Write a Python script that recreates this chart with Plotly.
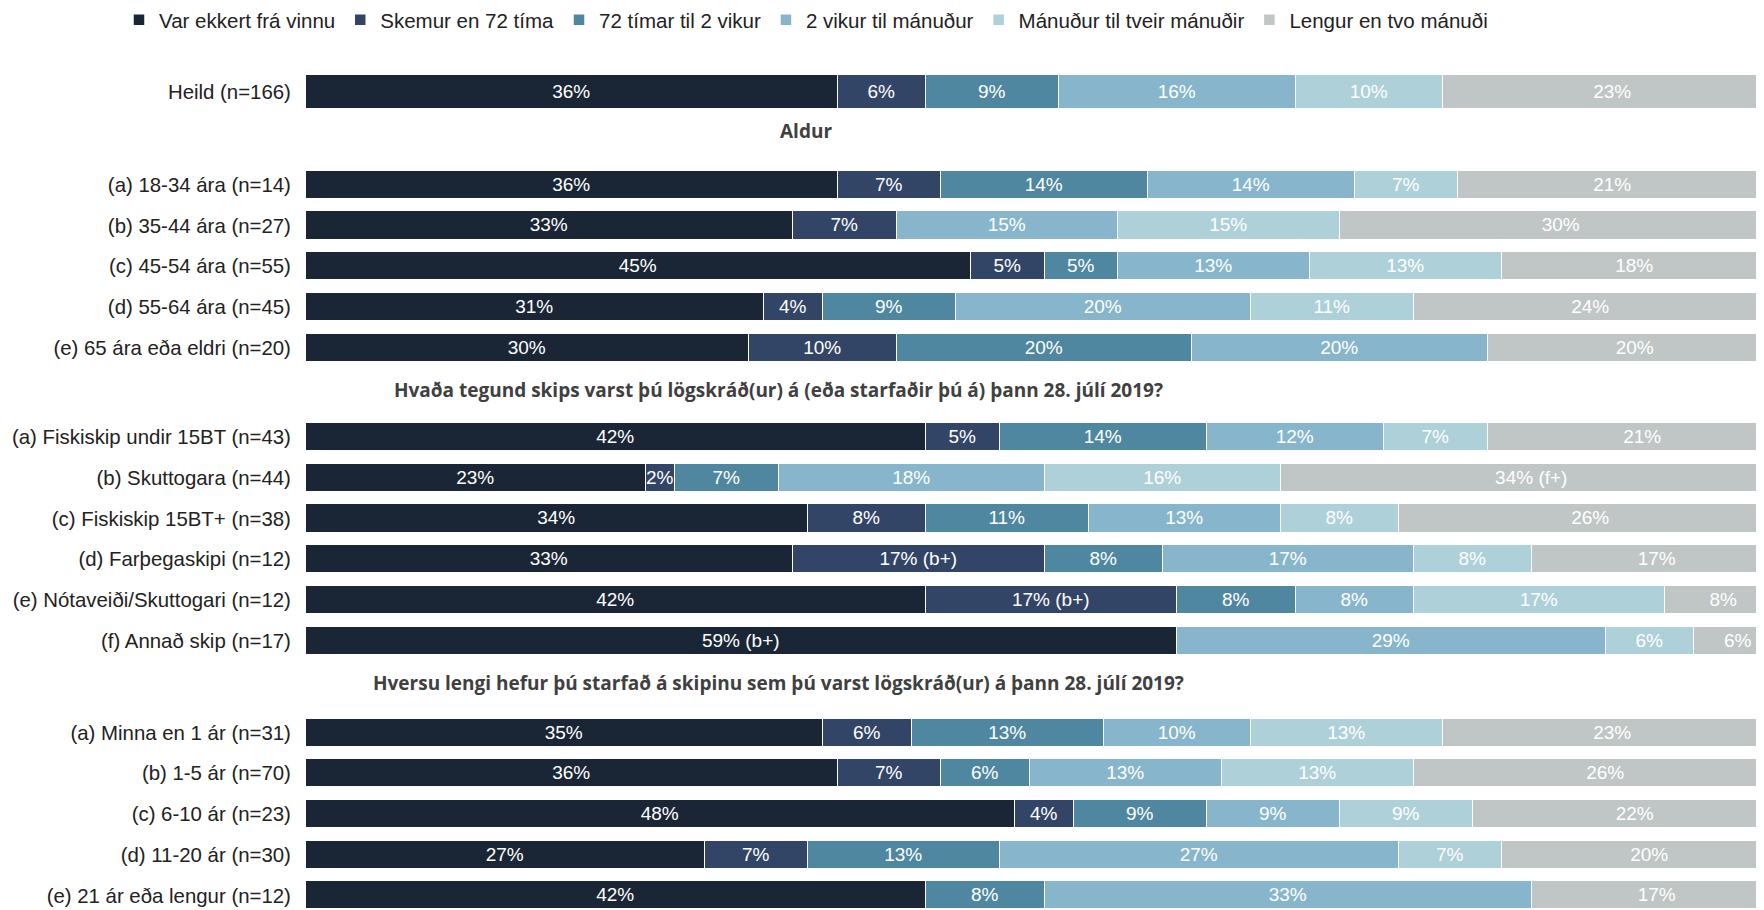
import plotly.graph_objects as go

# ---------------- data ----------------
series = ["Var ekkert frá vinnu", "Skemur en 72 tíma", "72 tímar til 2 vikur",
          "2 vikur til mánuður", "Mánuður til tveir mánuðir", "Lengur en tvo mánuði"]
colors = ["#1a2636", "#334566", "#4f87a1", "#87b6cc", "#aed0d9", "#c0c6c5"]

group_titles = [None,
                "Aldur",
                "Hvaða tegund skips varst þú lögskráð(ur) á (eða starfaðir þú á) þann 28. júlí 2019?",
                "Hversu lengi hefur þú starfað á skipinu sem þú varst lögskráð(ur) á þann 28. júlí 2019?"]
group_rows = [
    ["Heild (n=166)"],
    ["(a) 18-34 ára (n=14)", "(b) 35-44 ára (n=27)", "(c) 45-54 ára (n=55)",
     "(d) 55-64 ára (n=45)", "(e) 65 ára eða eldri (n=20)"],
    ["(a) Fiskiskip undir 15BT (n=43)", "(b) Skuttogara (n=44)", "(c) Fiskiskip 15BT+ (n=38)",
     "(d) Farþegaskipi (n=12)", "(e) Nótaveiði/Skuttogari (n=12)", "(f) Annað skip (n=17)"],
    ["(a) Minna en 1 ár (n=31)", "(b) 1-5 ár (n=70)", "(c) 6-10 ár (n=23)",
     "(d) 11-20 ár (n=30)", "(e) 21 ár eða lengur (n=12)"],
]

var_ekkert = [36, 36, 33, 45, 31, 30, 42, 23, 34, 33, 42, 59, 35, 36, 48, 27, 42]
skemur     = [6, 7, 7, 5, 4, 10, 5, 2, 8, 17, 17, 0, 6, 7, 4, 7, 0]
t72_2v     = [9, 14, 0, 5, 9, 20, 14, 7, 11, 8, 8, 0, 13, 6, 9, 13, 8]
v2_man     = [16, 14, 15, 13, 20, 20, 12, 18, 13, 17, 8, 29, 10, 13, 9, 27, 33]
man_2man   = [10, 7, 15, 13, 11, 0, 7, 16, 8, 8, 17, 6, 13, 13, 9, 7, 0]
lengur     = [23, 21, 30, 18, 24, 20, 21, 34, 26, 17, 8, 6, 23, 26, 22, 20, 17]
values = [var_ekkert, skemur, t72_2v, v2_man, man_2man, lengur]

# significance notes: (row label, series index, suffix)
notes = [("(b) Skuttogara (n=44)", 5, " (f+)"),
         ("(d) Farþegaskipi (n=12)", 1, " (b+)"),
         ("(e) Nótaveiði/Skuttogari (n=12)", 1, " (b+)"),
         ("(f) Annað skip (n=17)", 0, " (b+)")]

# ---------------- layout constants ----------------
BODY = 8                     # default page margin of the html body
W_T, H_T = 1764, 910         # target screenshot size
W, H = W_T - BODY, H_T - BODY
LEFT_T = 306                 # plot-area left edge in screenshot
TOP_T = 38                   # plot-area top edge in screenshot
ROW_PX = 40.7
FIRST_PX = 92                # centre of first bar in screenshot
GAPS = [2.28, 2.2, 2.26]     # row units between groups
HEAD_OFF = [0.95, 1.04, 1.04]
PX_PER_PCT = 14.77

labels, ypos, widths, headers = [], [], [], []
u = 0.0
for gi, rows in enumerate(group_rows):
    if gi > 0:
        headers.append((group_titles[gi], u + HEAD_OFF[gi - 1]))
        u += GAPS[gi - 1]
    for ri, r in enumerate(rows):
        if ri > 0:
            u += 1
        labels.append(r)
        ypos.append(u)
        widths.append(0.835 if gi == 0 else 0.69)

fig = go.Figure()
for si, name in enumerate(series):
    vals = values[si]
    txt = []
    for ri, v in enumerate(vals):
        t = f"{v}%" if v > 0 else ""
        for (lab, s, suf) in notes:
            if lab == labels[ri] and s == si:
                t += suf
        txt.append(t)
    fig.add_trace(go.Bar(
        y=ypos, x=vals, orientation="h", name=name,
        width=widths, text=txt, texttemplate="%{text}",
        textposition="inside", insidetextanchor="middle",
        textfont=dict(color="white", size=19, family="Liberation Sans, Arial"),
        marker=dict(color=colors[si], line=dict(color="white", width=1.5)),
        hoverinfo="skip",
    ))

plot_w = W_T - LEFT_T
annotations = []
header_xpx = [806, 778, 778]
for (title, yy), hx in zip(headers, header_xpx):
    annotations.append(dict(
        x=(hx - LEFT_T) / plot_w, xref="paper", y=yy, yref="y", text=f"<b>{title}</b>",
        showarrow=False, xanchor="center", yanchor="middle",
        font=dict(family="Open Sans", size=19, color="#404040")))

plot_h = H_T - TOP_T
fig.update_layout(
    width=W, height=H,
    barmode="stack", bargap=0,
    plot_bgcolor="white", paper_bgcolor="white",
    margin=dict(l=LEFT_T - BODY, r=0, t=TOP_T - BODY, b=0, autoexpand=False),
    font=dict(family="Liberation Sans, Arial", size=20.4, color="#222222"),
    xaxis=dict(range=[0, plot_w / PX_PER_PCT], visible=False, showgrid=False),
    yaxis=dict(range=[(H_T - FIRST_PX) / ROW_PX, (TOP_T - FIRST_PX) / ROW_PX],
               tickvals=ypos, ticktext=labels, showgrid=False, zeroline=False,
               ticks="outside", ticklen=10, tickcolor="rgba(0,0,0,0)",
               tickfont=dict(size=20.4, family="Liberation Sans, Arial", color="#222222")),
    legend=dict(orientation="h", x=(119 - LEFT_T) / plot_w, xanchor="left",
                y=1 + (TOP_T - BODY + 8) / plot_h, yanchor="top",
                font=dict(size=20.5, family="Liberation Sans, Arial", color="#222222"),
                traceorder="normal"),
    annotations=annotations,
    uniformtext=dict(mode="show", minsize=19),
)

fig.write_html("out.html")
